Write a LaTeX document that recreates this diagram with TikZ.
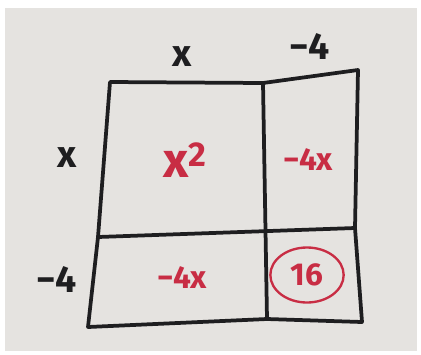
\documentclass[tikz,border=0pt]{standalone}
\usepackage{fontspec}
\setmainfont{Fira Sans}
\usetikzlibrary{shapes.geometric}
\definecolor{paper}{RGB}{229,227,224}
\definecolor{marker}{RGB}{200,45,68}
\definecolor{pen}{RGB}{30,30,32}
\tikzset{
  side/.style={text=pen,font=\bfseries\fontsize{32}{32}\selectfont,inner sep=0pt},
  term/.style={text=marker,font=\bfseries\fontsize{27}{27}\selectfont,inner sep=0pt},
  grid line/.style={draw=pen,line width=3.2pt,line cap=round,line join=round},
}

\begin{document}
\begin{tikzpicture}[x=0.03cm,y=-0.03cm]
  \fill[white] (0,0) rectangle (421,354);
  \fill[paper] (5,8) rectangle (417,351);
  % corners of the box
  \coordinate (tl) at (110,82);
  \coordinate (tm) at (263,83);
  \coordinate (tr) at (358,70);
  \coordinate (rm) at (355,228);
  \coordinate (br) at (362,322);
  \coordinate (bm) at (267,319);
  \coordinate (bl) at (88,327);
  \coordinate (lm) at (98,237);
  \draw[grid line] (tl) -- (tm) -- (tr) -- (rm) -- (br) -- (bm) -- (bl) -- (lm) -- cycle;
  \draw[grid line] (tm) -- (bm);
  \draw[grid line] (lm) -- (rm);
  % side lengths
  \node[side] (topx) at (182,57) {x};
  \node[side] (topfour) at (310,47) {−4};
  \node[side] (leftx) at (67,158) {x};
  \node[side] (leftfour) at (57,280) {−4};
  % products
  \node[term,font=\bfseries\fontsize{42}{42}\selectfont] (square) at (185,160) {x\textsuperscript{2}};
  \node[term] (topprod) at (308,160) {−4x};
  \node[term] (leftprod) at (182,278) {−4x};
  \node[term,ellipse,draw=marker,line width=2pt,minimum width=2.2cm,minimum height=1.65cm] (const) at (307,275) {16};
\end{tikzpicture}
\end{document}
